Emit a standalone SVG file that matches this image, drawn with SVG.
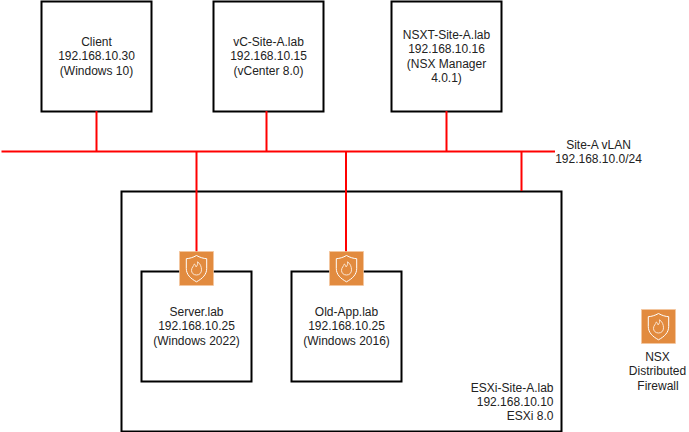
<svg xmlns="http://www.w3.org/2000/svg" width="689" height="432" viewBox="0 0 689 432">
<style>
.b{fill:#fff;stroke:#000;stroke-width:2}
.w{fill:none;stroke:#f00;stroke-width:2}
text{font-family:"Liberation Sans",Arial,sans-serif;font-size:12px;fill:#222;text-anchor:middle}
text.r{text-anchor:end}
.ig{fill:#e28b3f;stroke:#f4c7a0;stroke-width:.7}
.il{fill:none;stroke:#fff;stroke-width:1}
.fl{fill:none;stroke:#fbe6d3;stroke-width:1}
</style>
<defs>
<g id="fw">
<rect class="ig" x="0" y="0" width="34" height="34"/>
<path class="il" d="M17 4C13.500 6 10 7 6.800 7.200V17C6.800 23 11 27 17 30.300C23 27 27.200 23 27.200 17V7.200C24 7 20.500 6 17 4Z"/>
<path class="fl" d="M17 23.500C13.700 23.500 12 21.300 12 18.800C12 16 14.300 14.800 14.800 12.500C15.900 13 16.500 14.200 16.500 15.400C18 14.200 18.500 12 18 10.300C20.800 12 22 15.400 22 18.300C22 21.300 20.300 23.500 17 23.500Z"/>
</g>
</defs>
<g id="client"><rect class="b" x="41.500" y="1.500" width="110" height="110"/>
<text x="96.500" y="46">Client</text><text x="96.500" y="60">192.168.10.30</text><text x="96.500" y="75">(Windows 10)</text></g>
<g id="vcenter"><rect class="b" x="213.500" y="1.500" width="110" height="110"/>
<text x="268.500" y="46">vC-Site-A.lab</text><text x="268.500" y="60">192.168.10.15</text><text x="268.500" y="75">(vCenter 8.0)</text></g>
<g id="nsx-manager"><rect class="b" x="391.500" y="1.500" width="110" height="110"/>
<text x="446.500" y="39">NSXT-Site-A.lab</text><text x="446.500" y="53">192.168.10.16</text><text x="446.500" y="68">(NSX Manager</text><text x="446.500" y="82">4.0.1)</text></g>
<g id="vlan"><text x="598.500" y="149">Site-A vLAN</text><text x="598.500" y="163">192.168.10.0/24</text></g>
<g id="esxi"><rect class="b" x="121.500" y="191.500" width="440" height="240"/>
<text class="r" x="553.500" y="392">ESXi-Site-A.lab</text><text class="r" x="553.500" y="406">192.168.10.10</text><text class="r" x="553.500" y="420">ESXi 8.0</text></g>
<g id="server"><rect class="b" x="141.500" y="271.500" width="110" height="110"/>
<text x="196.500" y="316">Server.lab</text><text x="196.500" y="330">192.168.10.25</text><text x="196.500" y="345">(Windows 2022)</text></g>
<g id="old-app"><rect class="b" x="291.500" y="271.500" width="110" height="110"/>
<text x="346.500" y="316">Old-App.lab</text><text x="346.500" y="330">192.168.10.25</text><text x="346.500" y="345">(Windows 2016)</text></g>
<g id="connectors">
<path class="w" d="M1.500 151.500H555"/>
<path class="w" d="M96.500 111V151.500M266.500 111V151.500M446.500 111V151.500"/>
<path class="w" d="M196.500 151.500V252M346 151.500V252M521.500 151.500V191"/>
</g>
<g id="fw-server"><use href="#fw" x="179.500" y="251.500"/></g>
<g id="fw-old-app"><use href="#fw" x="329.500" y="251.500"/></g>
<g id="fw-legend"><use href="#fw" x="641.500" y="309.500"/>
<text x="657.500" y="361">NSX</text><text x="657.500" y="375">Distributed</text><text x="658" y="389.500">Firewall</text></g>
</svg>
